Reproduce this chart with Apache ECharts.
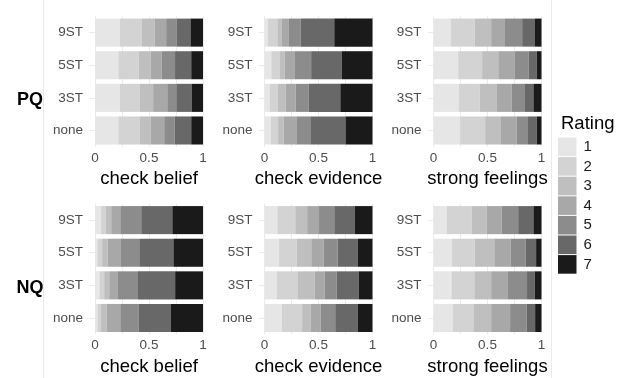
<!DOCTYPE html>
<html>
<head>
<meta charset="utf-8">
<script src="https://cdn.jsdelivr.net/npm/echarts@6/dist/echarts.min.js"></script>
<style>html,body{margin:0;padding:0;background:#fff}#c{width:620px;height:378px}</style>
</head>
<body>
<div id="c"></div>
<script>
// Categories (bottom -> top on the y axis)
const categories = ['none', '3ST', '5ST', '9ST'];
const ratings = ['1', '2', '3', '4', '5', '6', '7'];
const xTicks = [0, 0.5, 1];
const panelTitles = ['check belief', 'check evidence', 'strong feelings'];
const rowLabels = ['PQ', 'NQ'];

// Proportions of ratings 1..7 for each category [none, 3ST, 5ST, 9ST]
const pqCheckBelief = [
  [0.216, 0.200, 0.100, 0.125, 0.097, 0.153, 0.109],
  [0.228, 0.188, 0.122, 0.131, 0.084, 0.141, 0.106],
  [0.216, 0.190, 0.110, 0.100, 0.125, 0.150, 0.109],
  [0.228, 0.203, 0.122, 0.106, 0.097, 0.128, 0.116]
];
const pqCheckEvidence = [
  [0.060, 0.066, 0.053, 0.116, 0.129, 0.326, 0.250],
  [0.047, 0.075, 0.075, 0.091, 0.122, 0.292, 0.298],
  [0.063, 0.075, 0.050, 0.094, 0.150, 0.282, 0.286],
  [0.031, 0.088, 0.038, 0.069, 0.110, 0.310, 0.354]
];
const pqStrongFeelings = [
  [0.247, 0.231, 0.147, 0.144, 0.106, 0.081, 0.044],
  [0.234, 0.194, 0.159, 0.138, 0.116, 0.084, 0.075],
  [0.228, 0.222, 0.150, 0.150, 0.131, 0.075, 0.044],
  [0.159, 0.222, 0.153, 0.128, 0.159, 0.119, 0.060]
];
const nqCheckBelief = [
  [0.022, 0.034, 0.053, 0.125, 0.172, 0.294, 0.300],
  [0.041, 0.044, 0.047, 0.075, 0.191, 0.344, 0.258],
  [0.022, 0.044, 0.050, 0.119, 0.175, 0.316, 0.274],
  [0.056, 0.044, 0.050, 0.084, 0.194, 0.288, 0.284]
];
const nqCheckEvidence = [
  [0.160, 0.188, 0.078, 0.094, 0.135, 0.207, 0.138],
  [0.113, 0.197, 0.154, 0.094, 0.110, 0.204, 0.128],
  [0.135, 0.163, 0.135, 0.116, 0.128, 0.188, 0.135],
  [0.119, 0.166, 0.110, 0.110, 0.141, 0.188, 0.166]
];
const nqStrongFeelings = [
  [0.178, 0.191, 0.165, 0.175, 0.154, 0.078, 0.059],
  [0.166, 0.212, 0.156, 0.150, 0.182, 0.072, 0.062],
  [0.169, 0.212, 0.182, 0.153, 0.137, 0.097, 0.050],
  [0.122, 0.231, 0.141, 0.137, 0.153, 0.141, 0.075]
];

const panels = [pqCheckBelief, pqCheckEvidence, pqStrongFeelings,
                nqCheckBelief, nqCheckEvidence, nqStrongFeelings];

const colors = ['#E6E6E6', '#D3D3D3', '#BFBFBF', '#A8A8A8', '#8C8C8C', '#686868', '#1A1A1A'];

const colLeft = [95, 264.5, 433.5];
const rowTop = [16.3, 203.8];
const gridW = 108, gridH = 130.5;

const grids = [], xAxes = [], yAxes = [], series = [];
panels.forEach((panel, p) => {
  const row = Math.floor(p / 3), col = p % 3;
  grids.push({ left: colLeft[col], top: rowTop[row], width: gridW, height: gridH, containLabel: false });
  xAxes.push({
    type: 'value', gridIndex: p, min: 0, max: 1, interval: 0.25,
    name: panelTitles[col], nameLocation: 'middle', nameGap: 23,
    nameTextStyle: { fontSize: 18.5, color: '#000', fontFamily: 'Liberation Sans' },
    axisLine: { show: false }, axisTick: { show: false },
    axisLabel: {
      margin: 4, fontSize: 13.5, color: '#4D4D4D', fontFamily: 'Liberation Sans',
      formatter: v => (xTicks.some(t => Math.abs(t - v) < 1e-9) ? String(v) : '')
    },
    splitLine: { show: true, lineStyle: { color: '#EBEBEB', width: 1 } }
  });
  yAxes.push({
    type: 'category', gridIndex: p, data: categories,
    axisLine: { show: false },
    axisTick: { show: true, alignWithLabel: true, length: 5.5, lineStyle: { color: '#EBEBEB' } },
    axisLabel: { margin: 12, fontSize: 13.5, color: '#4D4D4D', fontFamily: 'Liberation Sans' },
    splitLine: { show: false }
  });
  ratings.forEach((r, ri) => {
    series.push({
      type: 'bar', name: r, stack: 'panel' + p,
      xAxisIndex: p, yAxisIndex: p,
      barCategoryGap: '14%',
      itemStyle: { color: colors[ri] },
      emphasis: { disabled: true },
      data: categories.map((c, ci) => panel[ci][ri])
    });
  });
});

const chart = echarts.init(document.getElementById('c'), null, { renderer: 'canvas' });
chart.setOption({
  animation: false,
  backgroundColor: '#fff',
  grid: grids, xAxis: xAxes, yAxis: yAxes, series: series,
  legend: {
    data: ratings, orient: 'vertical', left: 558, top: 137.5, padding: 0,
    itemWidth: 18.5, itemHeight: 18.6, itemGap: 1, icon: 'rect',
    selectedMode: false,
    textStyle: { fontSize: 15, color: '#1A1A1A', fontFamily: 'Liberation Sans', padding: [0, 0, 0, 2] }
  },
  graphic: [
    { type: 'line', shape: { x1: 43.5, y1: 0, x2: 43.5, y2: 378 }, style: { stroke: '#EBEBEB', lineWidth: 1 } },
    { type: 'line', shape: { x1: 551.5, y1: 0, x2: 551.5, y2: 378 }, style: { stroke: '#EBEBEB', lineWidth: 1 } },
    { type: 'text', x: 30, y: 100, style: { text: rowLabels[0], fontSize: 18, fontWeight: 'bold', fill: '#000', fontFamily: 'Liberation Sans', align: 'center', verticalAlign: 'middle' } },
    { type: 'text', x: 30, y: 288, style: { text: rowLabels[1], fontSize: 18, fontWeight: 'bold', fill: '#000', fontFamily: 'Liberation Sans', align: 'center', verticalAlign: 'middle' } },
    { type: 'text', x: 561, y: 124, style: { text: 'Rating', fontSize: 18.5, fill: '#000', fontFamily: 'Liberation Sans', align: 'left', verticalAlign: 'middle' } }
  ]
});
</script>
</body>
</html>
